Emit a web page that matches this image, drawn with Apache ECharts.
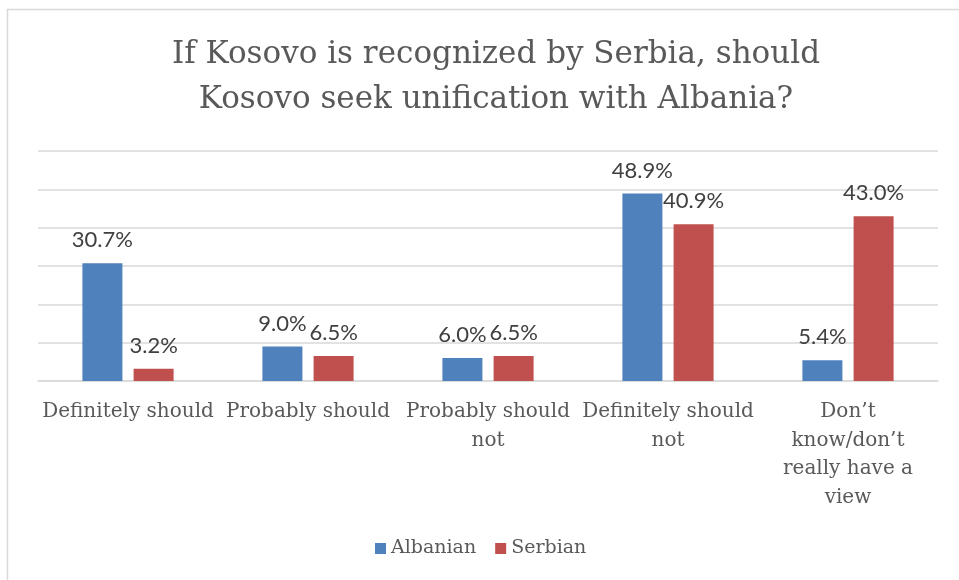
<!DOCTYPE html>
<html>
<head>
<meta charset="utf-8">
<script src="https://cdn.jsdelivr.net/npm/echarts@6/dist/echarts.min.js"></script>
<style>html,body{margin:0;padding:0;background:#fff}#c{width:959px;height:580px}</style>
</head>
<body>
<div id="c"></div>
<script>
var titleText = 'If Kosovo is recognized by Serbia, should\nKosovo seek unification with Albania?';
var categories = ['Definitely should', 'Probably should', 'Probably should\nnot', 'Definitely should\nnot', 'Don\u2019t\nknow/don\u2019t\nreally have a\nview'];
var seriesNames = ['Albanian', 'Serbian'];
var albanian = [30.7, 9.0, 6.0, 48.9, 5.4];
var serbian = [3.2, 6.5, 6.5, 40.9, 43.0];

var serif = '"DejaVu Serif", serif';
var chart = echarts.init(document.getElementById('c'));
function lbl() {
  return {
    show: true, position: 'top', distance: 12,
    fontFamily: 'Lato, "Open Sans", sans-serif', fontSize: 22, color: '#404040',
    formatter: function (p) { return p.value.toFixed(1) + '%'; }
  };
}
chart.setOption({
  animation: false,
  backgroundColor: '#fff',
  graphic: [{
    type: 'polyline', silent: true,
    shape: { points: [[7.5, 1000], [7.5, 9.5], [1000, 9.5]] },
    style: { stroke: '#d9d9d9', lineWidth: 1.5, fill: null }
  }],
  title: {
    text: titleText, left: 491, top: 27, textAlign: 'center',
    textStyle: { fontFamily: serif, fontSize: 31, fontWeight: 'normal', color: '#595959', lineHeight: 45 }
  },
  legend: {
    data: seriesNames, left: 370, bottom: 17, itemWidth: 11, itemHeight: 11, itemGap: 19,
    icon: 'rect',
    textStyle: { fontFamily: serif, fontSize: 19, color: '#595959' }
  },
  grid: { left: 38, right: 21, top: 151, bottom: 199, containLabel: false },
  xAxis: {
    type: 'category', data: categories,
    axisLine: { lineStyle: { color: '#d9d9d9', width: 1.5 } },
    axisTick: { show: false },
    axisLabel: { interval: 0, margin: 17, fontFamily: serif, fontSize: 20, color: '#595959', lineHeight: 28.5 }
  },
  yAxis: {
    type: 'value', min: 0, max: 60, interval: 10,
    axisLabel: { show: false }, axisLine: { show: false }, axisTick: { show: false },
    splitLine: { lineStyle: { color: '#d9d9d9', width: 1.5 } }
  },
  series: [
    { name: seriesNames[0], type: 'bar', data: albanian, barWidth: 40, barGap: '28%',
      itemStyle: { color: '#4f81bd' }, label: lbl() },
    { name: seriesNames[1], type: 'bar', data: serbian, barWidth: 40,
      itemStyle: { color: '#c0504d' }, label: lbl() }
  ]
});
</script>
</body>
</html>
